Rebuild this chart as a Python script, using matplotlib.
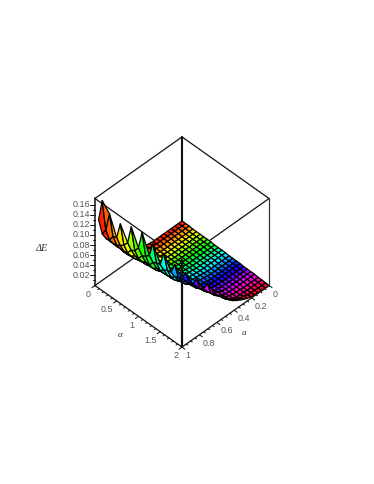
import numpy as np
import matplotlib
matplotlib.use('Agg')
import matplotlib.pyplot as plt
from matplotlib.colors import hsv_to_rgb
from mpl_toolkits.mplot3d.art3d import Poly3DCollection
from mpl_toolkits.mplot3d import proj3d

alpha_grid = [0, 0.083, 0.167, 0.25, 0.333, 0.417, 0.5, 0.583, 0.667, 0.75, 0.833, 0.917, 1,
              1.083, 1.167, 1.25, 1.333, 1.417, 1.5, 1.583, 1.667, 1.75, 1.833, 1.917, 2]
a_grid = [0, 0.042, 0.083, 0.125, 0.167, 0.208, 0.25, 0.292, 0.333, 0.375, 0.417, 0.458, 0.5,
          0.542, 0.583, 0.625, 0.667, 0.708, 0.75, 0.792, 0.833, 0.875, 0.917, 0.958, 1]

# delta E in thousandths, one row per alpha, the row stops where the surface stops
delta_e = [
    [6, 6, 6, 6, 6, 6, 6, 6, 6, 7, 8, 10, 12, 15, 19, 24, 30, 38, 47, 58, 68, 78, 92, 125],
    [6, 6, 6, 6, 6, 6, 6, 6, 6, 7, 8, 9, 11, 13, 16, 22, 29, 38, 48, 58, 68, 80, 105, 168],
    [6, 6, 6, 6, 6, 6, 6, 6, 6, 7, 8, 9, 11, 13, 16, 20, 27, 36, 46, 58, 70, 92, 142],
    [5, 5, 5, 5, 5, 5, 5, 5, 5, 6, 7, 8, 10, 12, 15, 22, 30, 38, 47, 58, 74, 95],
    [5, 5, 5, 5, 5, 5, 5, 5, 5, 6, 7, 8, 10, 12, 15, 22, 30, 38, 48, 60, 80, 127],
    [5, 5, 5, 5, 5, 5, 5, 5, 5, 6, 7, 8, 10, 13, 18, 24, 32, 42, 54, 70, 90],
    [5, 5, 5, 5, 5, 5, 5, 5, 5, 6, 7, 8, 10, 13, 18, 24, 32, 42, 54, 74, 126],
    [5, 5, 5, 5, 5, 5, 5, 5, 5, 6, 7, 8, 10, 13, 18, 25, 34, 46, 64, 85],
    [5, 5, 5, 5, 5, 5, 5, 5, 5, 6, 7, 8, 10, 13, 18, 25, 34, 46, 68, 120],
    [4, 4, 4, 4, 4, 4, 4, 4, 5, 6, 7, 8, 11, 15, 21, 29, 40, 56, 75],
    [4, 4, 4, 4, 4, 4, 4, 4, 5, 6, 7, 8, 11, 15, 21, 29, 40, 60, 103],
    [4, 4, 4, 4, 4, 4, 4, 4, 5, 6, 7, 8, 10, 13, 20, 30, 46, 62],
    [4, 4, 4, 4, 4, 4, 4, 4, 5, 6, 7, 8, 10, 14, 21, 32, 50, 89],
    [3, 3, 3, 3, 3, 3, 3, 4, 5, 6, 7, 9, 12, 17, 26, 38, 52],
    [3, 3, 3, 3, 3, 3, 3, 4, 5, 6, 7, 9, 13, 18, 28, 42, 72],
    [3, 3, 3, 3, 3, 3, 3, 3, 4, 5, 7, 10, 15, 23, 34, 45],
    [3, 3, 3, 3, 3, 3, 3, 3, 4, 5, 7, 10, 15, 24, 36, 61],
    [2, 2, 2, 2, 2, 2, 3, 3, 4, 5, 8, 12, 19, 29, 38],
    [2, 2, 2, 2, 2, 2, 3, 3, 4, 5, 8, 12, 20, 30, 54],
    [2, 2, 2, 2, 2, 2, 2, 3, 4, 7, 10, 16, 24, 33],
    [2, 2, 2, 2, 2, 2, 2, 3, 4, 7, 10, 16, 25, 50],
    [1, 1, 1, 1, 1, 2, 2, 3, 5, 8, 14, 21, 29],
    [1, 1, 1, 1, 1, 2, 2, 3, 5, 8, 14, 22, 39],
    [0, 0, 0, 1, 1, 2, 4, 6, 10, 14, 19, 25],
    [0, 0, 0, 1, 2, 3, 5, 8, 12, 16, 21, 27],
]

z_ticks = [0.02, 0.04, 0.06, 0.08, 0.10, 0.12, 0.14, 0.16]
z_tick_labels = ['0.02', '0.04', '0.06', '0.08', '0.10', '0.12', '0.14', '0.16']
alpha_ticks = [0, 0.5, 1, 1.5, 2]
alpha_tick_labels = ['0', '0.5', '1', '1.5', '2']
a_ticks = [0, 0.2, 0.4, 0.6, 0.8, 1]
a_tick_labels = ['0', '0.2', '0.4', '0.6', '0.8', '1']

z_top = 0.172
tick_color = '#555555'

fig = plt.figure(figsize=(3.74, 4.84), dpi=100)
ax = fig.add_axes([75.7 / 374, 135.7 / 484, 207 / 374, 207 / 484], projection='3d',
                  proj_type='ortho', computed_zorder=False)
ax.view_init(elev=45, azim=45)
ax.set_box_aspect((1, 1, 1))
ax.set_xlim(0, 1, view_margin=0)
ax.set_ylim(0, 2, view_margin=0)
ax.set_zlim(0, z_top, view_margin=0)
ax.set_axis_off()
ax.patch.set_alpha(0)


def edge(p, q, zorder=1, lw=0.9, color='#111111'):
    ax.plot([p[0], q[0]], [p[1], q[1]], [p[2], q[2]], color=color, lw=lw,
            zorder=zorder, clip_on=False, solid_capstyle='round')


def label_at(x, y, z, s, **kw):
    # flat text placed at a data point of the box
    px, py, _ = proj3d.proj_transform(x, y, z, ax.get_proj())
    ax.text2D(px, py, s, transform=ax.transData, clip_on=False, **kw)


# box, (a, alpha, z)
edge((1, 0, 0), (0, 0, 0))
edge((0, 0, 0), (0, 2, 0))
edge((0, 0, 0), (0, 0, z_top), lw=1.5)
edge((0, 0, z_top), (1, 0, z_top))
edge((0, 0, z_top), (0, 2, z_top))
edge((1, 0, z_top), (1, 2, z_top))
edge((0, 2, z_top), (1, 2, z_top))
edge((0, 2, 0), (0, 2, z_top), color='#333333')

# surface
polys = []
colors = []
for i in range(len(alpha_grid) - 1):
    for j in range(len(a_grid) - 1):
        corners = [(i, j), (i + 1, j), (i + 1, j + 1), (i, j + 1)]
        pts = [(a_grid[c[1]], alpha_grid[c[0]], delta_e[c[0]][c[1]] / 1000)
               for c in corners if c[1] < len(delta_e[c[0]])]
        if len(pts) >= 3:
            polys.append(pts)
            mid = (alpha_grid[i] + alpha_grid[i + 1]) / 4
            colors.append(hsv_to_rgb((mid, 1, 1)))
surf = Poly3DCollection(polys, facecolors=colors, edgecolors='black', linewidths=0.9,
                        zorder=2, clip_on=False)
ax.add_collection3d(surf, autolim=False)

# front edges and axes on top
edge((1, 2, 0), (1, 2, z_top), lw=1.6, zorder=3)
edge((1, 0, 0), (1, 2, 0), zorder=3)
edge((1, 2, 0), (0, 2, 0), zorder=3)
edge((1, 0, 0), (1, 0, z_top), zorder=3, lw=1.1)

for v in np.arange(0, 2.01, 0.1):
    major = round(v * 10) % 5 == 0
    edge((1, v, 0), (1.035 if major else 1.018, v, 0), zorder=3, lw=0.7)
for v in np.arange(0, 1.01, 0.05):
    major = round(v * 20) % 4 == 0
    edge((v, 2, 0), (v, 2.07 if major else 2.036, 0), zorder=3, lw=0.7)
for v in np.arange(0.01, 0.17, 0.01):
    major = round(v * 100) % 2 == 0
    d = 0.028 if major else 0.014
    edge((1, 0, v), (1 + d, -2 * d, v), zorder=3, lw=0.7)

font = dict(family='Liberation Sans', fontsize=6.4, color=tick_color, zorder=4)
for v, s in zip(z_ticks, z_tick_labels):
    label_at(1.03, -0.06, v, s, ha='right', va='center', **font)
for v, s in zip(alpha_ticks, alpha_tick_labels):
    label_at(1.045, v, -0.012, s, ha='right', va='center', **font)
for v, s in zip(a_ticks, a_tick_labels):
    label_at(v, 2.08, -0.012, s, ha='left', va='center', **font)

label = dict(family='Liberation Serif', color='#333333', style='italic', zorder=4)
label_at(1.258, 1.096, 0, '\u03b1', ha='center', va='center', fontsize=6.6, **label)
label_at(0.528, 2.49, 0, 'a', ha='center', va='center', fontsize=6.6, **label)
label_at(1.307, -0.62, 0.073, '\u0394E', ha='center', va='center', fontsize=7.4, **label)

fig.savefig('out.png', dpi=100)
